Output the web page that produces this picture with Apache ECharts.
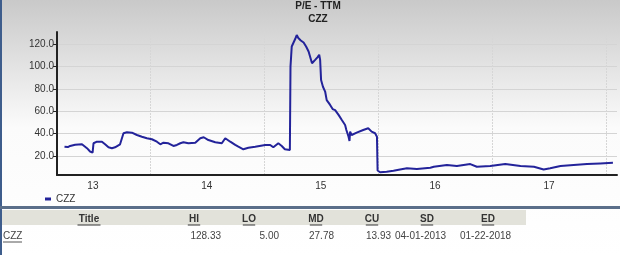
<!DOCTYPE html>
<html>
<head>
<meta charset="utf-8">
<script src="https://cdn.jsdelivr.net/npm/echarts@6/dist/echarts.min.js"></script>
<style>
html,body{margin:0;padding:0;background:#fff;}
#c{width:620px;height:255px;}
</style>
</head>
<body>
<div id="c"></div>
<script>
const chartTitle = 'P/E - TTM';
const chartSubtitle = 'CZZ';
const seriesName = 'CZZ';
const dates = [
'2013-04-01','2013-04-12','2013-04-19','2013-05-05','2013-05-27','2013-06-01','2013-06-12','2013-06-22','2013-06-30',
'2013-07-03','2013-07-14','2013-07-30','2013-08-09','2013-08-20','2013-08-31','2013-09-10','2013-09-26','2013-10-02',
'2013-10-07','2013-10-18','2013-11-03','2013-11-19','2013-12-05','2013-12-21','2014-01-06','2014-01-22','2014-02-02',
'2014-02-12','2014-02-28','2014-03-16','2014-03-27','2014-04-07','2014-04-17','2014-05-03','2014-05-25','2014-06-10',
'2014-06-21','2014-07-06','2014-07-28','2014-08-18','2014-08-29','2014-09-03','2014-09-14','2014-09-30','2014-10-10',
'2014-10-16','2014-10-26','2014-11-11','2014-12-03','2015-01-04','2015-01-09','2015-01-20','2015-01-30','2015-02-15',
'2015-02-26','2015-03-08','2015-03-24','2015-03-26','2015-03-30','2015-04-10','2015-04-15','2015-04-20','2015-04-28',
'2015-05-07','2015-05-15','2015-05-23','2015-06-03','2015-06-08','2015-06-13','2015-06-21','2015-06-26','2015-06-29',
'2015-07-02','2015-07-08','2015-07-15','2015-07-20','2015-07-31','2015-08-08','2015-08-16','2015-08-27','2015-09-07',
'2015-09-17','2015-09-21','2015-09-28','2015-10-01','2015-10-03','2015-10-08','2015-10-24','2015-11-14','2015-11-30',
'2015-12-11','2015-12-22','2015-12-25','2015-12-28','2015-12-30','2016-01-07','2016-01-13','2016-01-28','2016-02-19',
'2016-03-11','2016-04-02','2016-05-04','2016-06-16','2016-06-27','2016-08-08','2016-09-09','2016-10-22','2016-11-12',
'2016-12-25','2017-02-11','2017-04-01','2017-05-14','2017-06-14','2017-07-05','2017-08-07','2017-09-18','2017-10-31',
'2017-12-12','2018-01-22'
];
const peValues = [
28.3,28.0,29.0,30.0,30.5,29.2,27.0,24.0,23.0,
31.4,32.8,32.8,30.5,27.8,27.0,27.8,30.5,31.4,
40.4,41.3,40.9,38.8,37.3,35.9,35.0,32.8,30.5,
31.9,31.4,29.0,29.9,31.4,32.3,31.4,31.9,35.9,
36.8,34.3,32.3,31.4,35.9,37.3,32.8,29.9,28.3,
29.9,26.0,27.4,28.3,29.9,28.3,29.9,27.8,31.4,
29.0,26.0,25.4,100.0,118.0,124.7,128.3,125.6,123.4,
121.6,118.0,113.5,103.0,102.5,106.0,108.5,110.6,106.0,
88.0,82.0,77.7,70.0,65.7,62.0,61.0,56.8,52.0,
47.8,43.3,37.3,33.5,41.8,38.8,40.9,43.3,44.8,
41.8,40.4,41.5,37.3,7.0,5.5,5.0,6.0,6.8,
8.0,9.0,8.3,9.5,10.4,11.9,11.0,12.8,10.4,
11.0,12.8,11.0,10.4,8.0,9.0,11.0,11.9,12.8,
13.4,13.93
];
const yTickValues = [20, 40, 60, 80, 100, 120];
const yearLabelDates = ['2013-07-01','2014-07-01','2015-07-01','2016-07-01','2017-07-01'];
const yearLineDates = ['2014-01-01','2015-01-01','2016-01-01','2017-01-01','2018-01-01'];
const tableHeaders = ['Title','HI','LO','MD','CU','SD','ED'];
const tableRow = ['CZZ','128.33','5.00','27.78','13.93','04-01-2013','01-22-2018'];

function ts(s){ const p = s.split('-').map(Number); return Date.UTC(p[0], p[1]-1, p[2]); }

const chart = echarts.init(document.getElementById('c'), null, {renderer:'canvas'});
const FONT = 'Liberation Sans, Arial, sans-serif';

const headerCenters = [89,194,249,316,372,427,488];
const headerY = 219;
const rowY = 236;
const graphics = [
  {type:'rect', x:0, y:0, shape:{x:0, y:0, width:2, height:255}, style:{fill:'#3e5d8c'}, z:10},
  {type:'rect', x:0, y:0, shape:{x:0, y:206, width:620, height:3}, style:{fill:'#5b6f8a'}, z:10},
  {type:'rect', x:0, y:0, shape:{x:0, y:210, width:526, height:15}, style:{fill:'#e2e2da'}, z:5},
  {type:'text', x:318, y:6, style:{text:chartTitle, font:'bold 10px '+FONT, fill:'#222', align:'center', verticalAlign:'middle'}, z:10},
  {type:'text', x:318, y:19, style:{text:chartSubtitle, font:'bold 10px '+FONT, fill:'#222', align:'center', verticalAlign:'middle'}, z:10}
];
tableHeaders.forEach(function(h, i){
  graphics.push({type:'text', x:headerCenters[i], y:headerY, style:{text:h, font:'bold 10px '+FONT, fill:'#333', align:'center', verticalAlign:'middle'}, z:10});
  const tw = h.length * (h === 'Title' ? 4.6 : 6.2);
  graphics.push({type:'line', shape:{x1:headerCenters[i]-tw/2, y1:headerY+6, x2:headerCenters[i]+tw/2, y2:headerY+6}, style:{stroke:'#333', lineWidth:1}, z:10});
});
const rowPos = [[3,'left'],[221,'right'],[279,'right'],[334,'right'],[391,'right'],[395,'left'],[460,'left']];
tableRow.forEach(function(v, i){
  graphics.push({type:'text', x:rowPos[i][0], y:rowY, style:{text:v, font:'10px '+FONT, fill:'#444', align:rowPos[i][1], verticalAlign:'middle'}, z:10});
});
graphics.push({type:'line', shape:{x1:3, y1:rowY+6, x2:22, y2:rowY+6}, style:{stroke:'#555', lineWidth:1}, z:10});

chart.setOption({
  animation:false,
  backgroundColor:{type:'linear', x:0, y:0, x2:0, y2:1, colorStops:[
    {offset:0, color:'#c9c9c9'}, {offset:0.5, color:'#fbfbfb'}, {offset:1, color:'#ffffff'}]},
  grid:{left:57, right:3, top:32, bottom:80, containLabel:false},
  legend:{
    data:[seriesName], left:45, top:194, icon:'rect', itemWidth:6, itemHeight:3, itemGap:4, padding:0,
    textStyle:{fontSize:10, color:'#333', fontFamily:FONT}
  },
  xAxis:{
    type:'value',
    min:ts('2013-03-08'), max:ts('2018-02-04'),
    axisLine:{lineStyle:{color:'#222', width:2}},
    axisTick:{show:false, customValues:yearLineDates.map(ts)},
    splitLine:{show:true, lineStyle:{color:'#d6d6d6', width:1, type:[2,1]}},
    axisLabel:{
      customValues:yearLabelDates.map(ts), margin:6,
      fontSize:10, color:'#333', fontFamily:FONT,
      formatter:function(v){ return String(new Date(v).getUTCFullYear()).slice(2); }
    }
  },
  yAxis:{
    type:'value', min:3, max:131,
    axisLine:{show:true, lineStyle:{color:'#222', width:2}},
    axisTick:{show:true, length:4, customValues:yTickValues, lineStyle:{color:'#222'}},
    splitLine:{show:true, lineStyle:{color:'#d4d4d4', width:1}},
    axisLabel:{customValues:yTickValues, margin:3, fontSize:10, color:'#333', fontFamily:FONT,
      formatter:function(v){ return Number(v).toFixed(1); }}
  },
  series:[{
    name:seriesName, type:'line', showSymbol:false, symbol:'none',
    data:dates.map(function(d,i){ return [ts(d), peValues[i]]; }),
    lineStyle:{color:'#23239a', width:2}, itemStyle:{color:'#23239a'}
  }],
  graphic:graphics
});
</script>
</body>
</html>
